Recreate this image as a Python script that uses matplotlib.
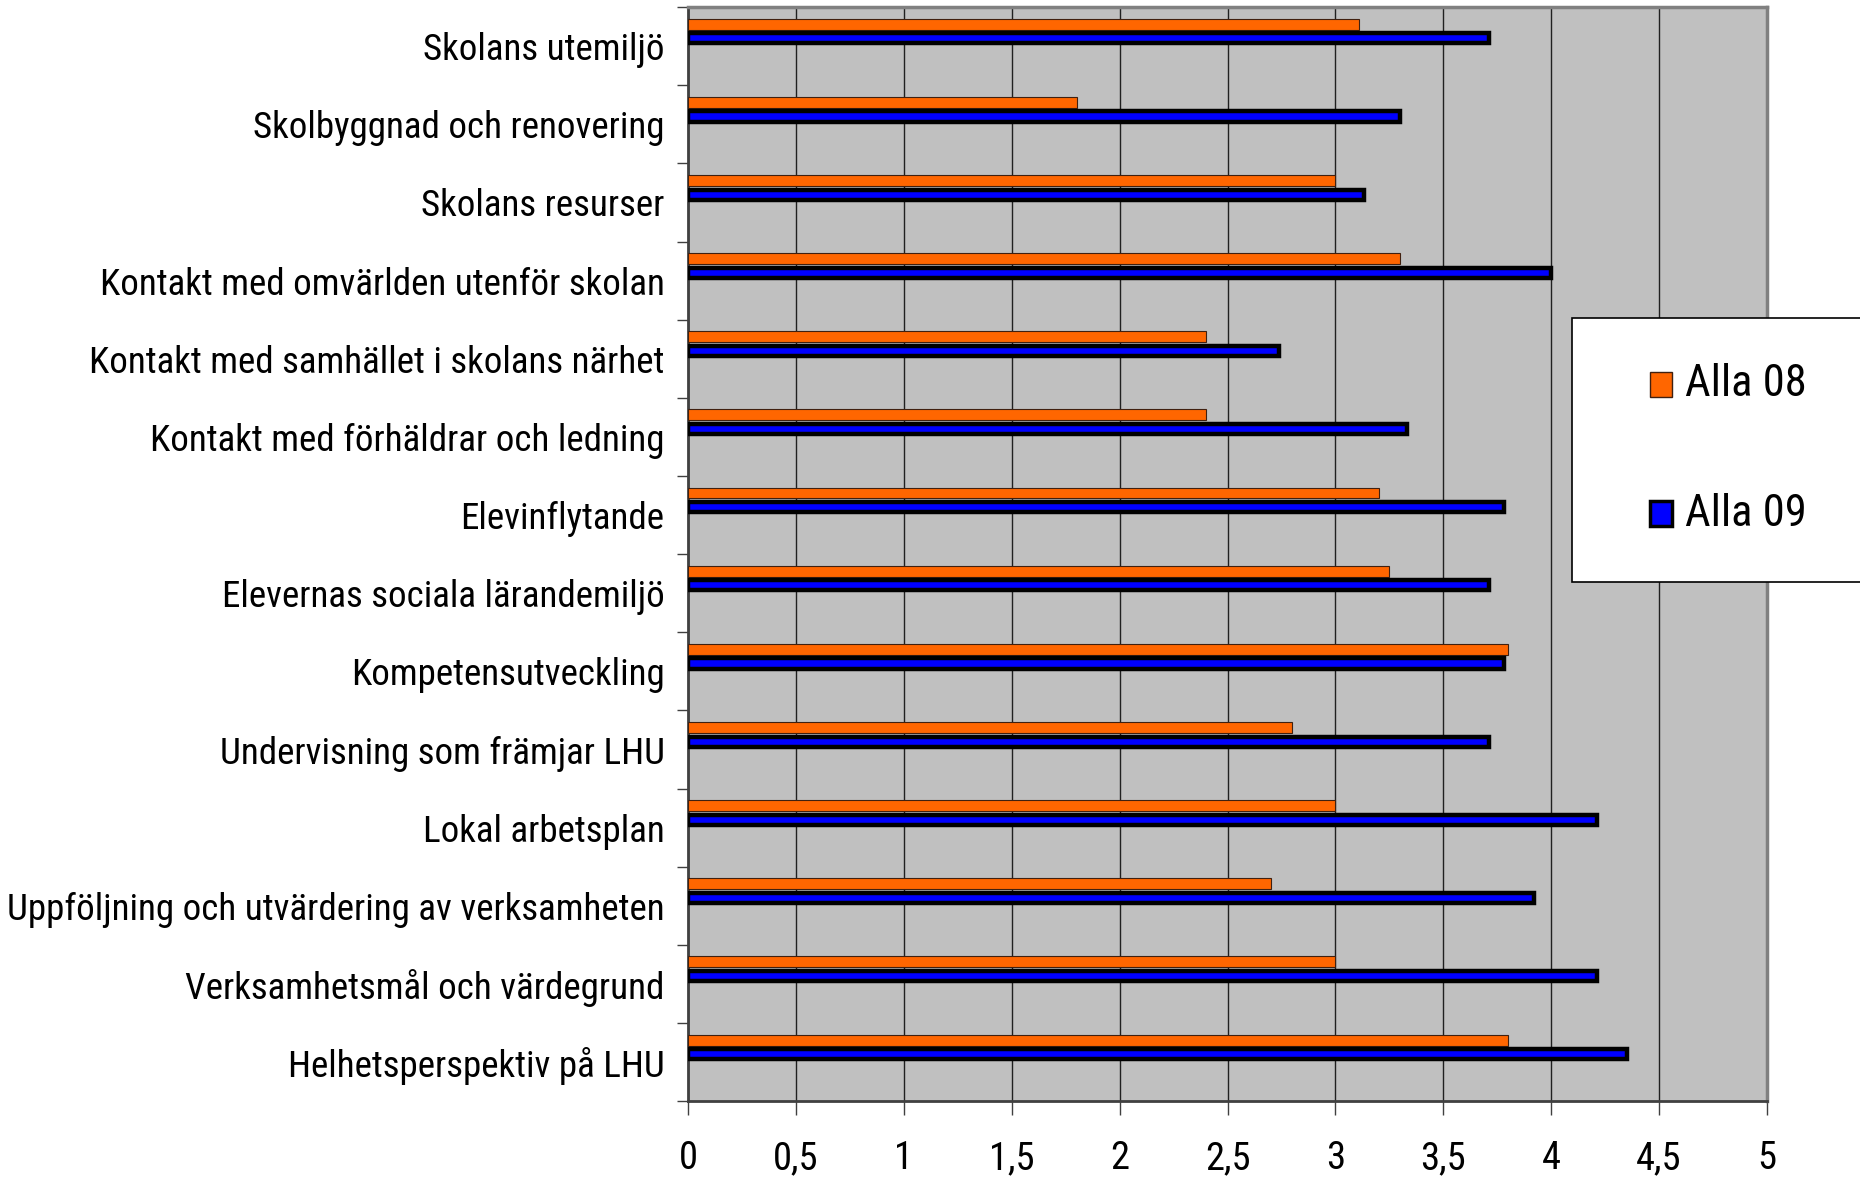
import matplotlib
matplotlib.use("Agg")
import matplotlib.pyplot as plt
import numpy as np
from matplotlib import font_manager
from matplotlib.font_manager import FontProperties
from matplotlib.textpath import TextPath
from matplotlib.patches import Rectangle
from matplotlib.ticker import FuncFormatter, MultipleLocator

categories = [
    'Skolans utemiljö',
    'Skolbyggnad och renovering',
    'Skolans resurser',
    'Kontakt med omvärlden utenför skolan',
    'Kontakt med samhället i skolans närhet',
    'Kontakt med förhäldrar och ledning',
    'Elevinflytande',
    'Elevernas sociala lärandemiljö',
    'Kompetensutveckling',
    'Undervisning som främjar LHU',
    'Lokal arbetsplan',
    'Uppföljning och utvärdering av verksamheten',
    'Verksamhetsmål och värdegrund',
    'Helhetsperspektiv på LHU',
]
series_names = ['Alla 08', 'Alla 09']
alla_08 = [3.11, 1.80, 3.00, 3.30, 2.40, 2.40, 3.20, 3.25, 3.80, 2.80, 3.00, 2.70, 3.00, 3.80]
alla_09 = [3.71, 3.30, 3.13, 4.00, 2.74, 3.33, 3.78, 3.71, 3.78, 3.71, 4.21, 3.92, 4.21, 4.35]

FAMILIES = ['Liberation Sans Narrow', 'Roboto Condensed', 'Open Sans Condensed', 'DejaVu Sans',
            'Noto Sans', 'Roboto', 'Lato', 'Liberation Sans', 'Open Sans']


def text_width(s, fp):
    return TextPath((0, 0), s, size=100, prop=fp).get_extents().width


# the original uses a tall, narrow Arial-like face: pick the installed one closest to it
def pick_font():
    best, best_d = None, None
    for f in font_manager.fontManager.ttflist:
        if f.name not in FAMILIES or f.style != 'normal':
            continue
        if f.weight not in (400, 'normal', 'regular', 'book'):
            continue
        try:
            fp = FontProperties(fname=f.fname)
            w = text_width('Skolans utemiljö', fp)
            h = TextPath((0, 0), 'H', size=100, prop=fp).get_extents().height
        except Exception:
            continue
        if h <= 0:
            continue
        d = abs(w / h - 8.4)
        if best_d is None or d < best_d:
            best, best_d = f.fname, d
    return FontProperties(fname=best) if best else FontProperties(family='Liberation Sans')


base = pick_font()


def sized(target_px, sample):
    fs = 100 * target_px * 0.72 / text_width(sample, base)
    fp = base.copy()
    fp.set_size(fs)
    return fp


ylab_font = sized(654, 'Uppföljning och utvärdering av verksamheten')
xtick_font = sized(42, '0,5')
legend_font = sized(118, 'Alla 08')

fig = plt.figure(figsize=(18.6, 11.79), dpi=100)
ax = fig.add_axes([0.370, 0.066, 0.580, 0.928])
ax.set_facecolor('#C0C0C0')

y = np.arange(len(categories))
ax.barh(y - 0.282, alla_08, height=0.14, color='#FF6600', edgecolor='#402010', linewidth=0.8, zorder=3)
ax.barh(y - 0.10, alla_09, height=0.13, color='#0000FF', edgecolor='black', linewidth=3.2, zorder=3)

ax.set_xlim(0, 5)
ax.set_ylim(len(categories) - 0.5, -0.5)
ax.xaxis.set_major_locator(MultipleLocator(0.5))
ax.xaxis.set_major_formatter(FuncFormatter(lambda v, p: ('%g' % v).replace('.', ',')))
ax.grid(axis='x', color='#202020', linewidth=1.0, zorder=1)
ax.set_axisbelow(True)

ax.set_yticks(y)
ax.set_yticklabels(categories, fontproperties=ylab_font)
ax.set_yticks(np.arange(len(categories) + 1) - 0.5, minor=True)
ax.tick_params(axis='y', which='major', length=0, pad=17)
ax.tick_params(axis='y', which='minor', length=8, width=1, color='#404040')
ax.tick_params(axis='x', length=10, width=1, color='#404040', pad=18)
for lab in ax.get_xticklabels():
    lab.set_fontproperties(xtick_font)

for side in ['top', 'right']:
    ax.spines[side].set_color('#808080')
    ax.spines[side].set_linewidth(2.5)
for side in ['left', 'bottom']:
    ax.spines[side].set_color('#404040')
    ax.spines[side].set_linewidth(2)

# legend box, partly outside the figure like the original
W, H = 1860.0, 1179.0
fig.add_artist(Rectangle((1572 / W, 1 - 582 / H), 300 / W, 264 / H, transform=fig.transFigure,
                         facecolor='white', edgecolor='black', linewidth=1.2, zorder=5))
colors = ['#FF6600', '#0000FF']
edges = ['#402010', 'black']
lws = [1, 2.5]
box_top = [372, 501]
baseline = [396, 526]
for name, c, e, lw, bt, bl in zip(series_names, colors, edges, lws, box_top, baseline):
    fig.add_artist(Rectangle((1650 / W, 1 - (bt + 25) / H), 22 / W, 25 / H, transform=fig.transFigure,
                             facecolor=c, edgecolor=e, linewidth=lw, zorder=6))
    fig.text(1685 / W, 1 - bl / H, name, fontproperties=legend_font, va='baseline', ha='left', zorder=7)

fig.savefig('out.png', dpi=100)
